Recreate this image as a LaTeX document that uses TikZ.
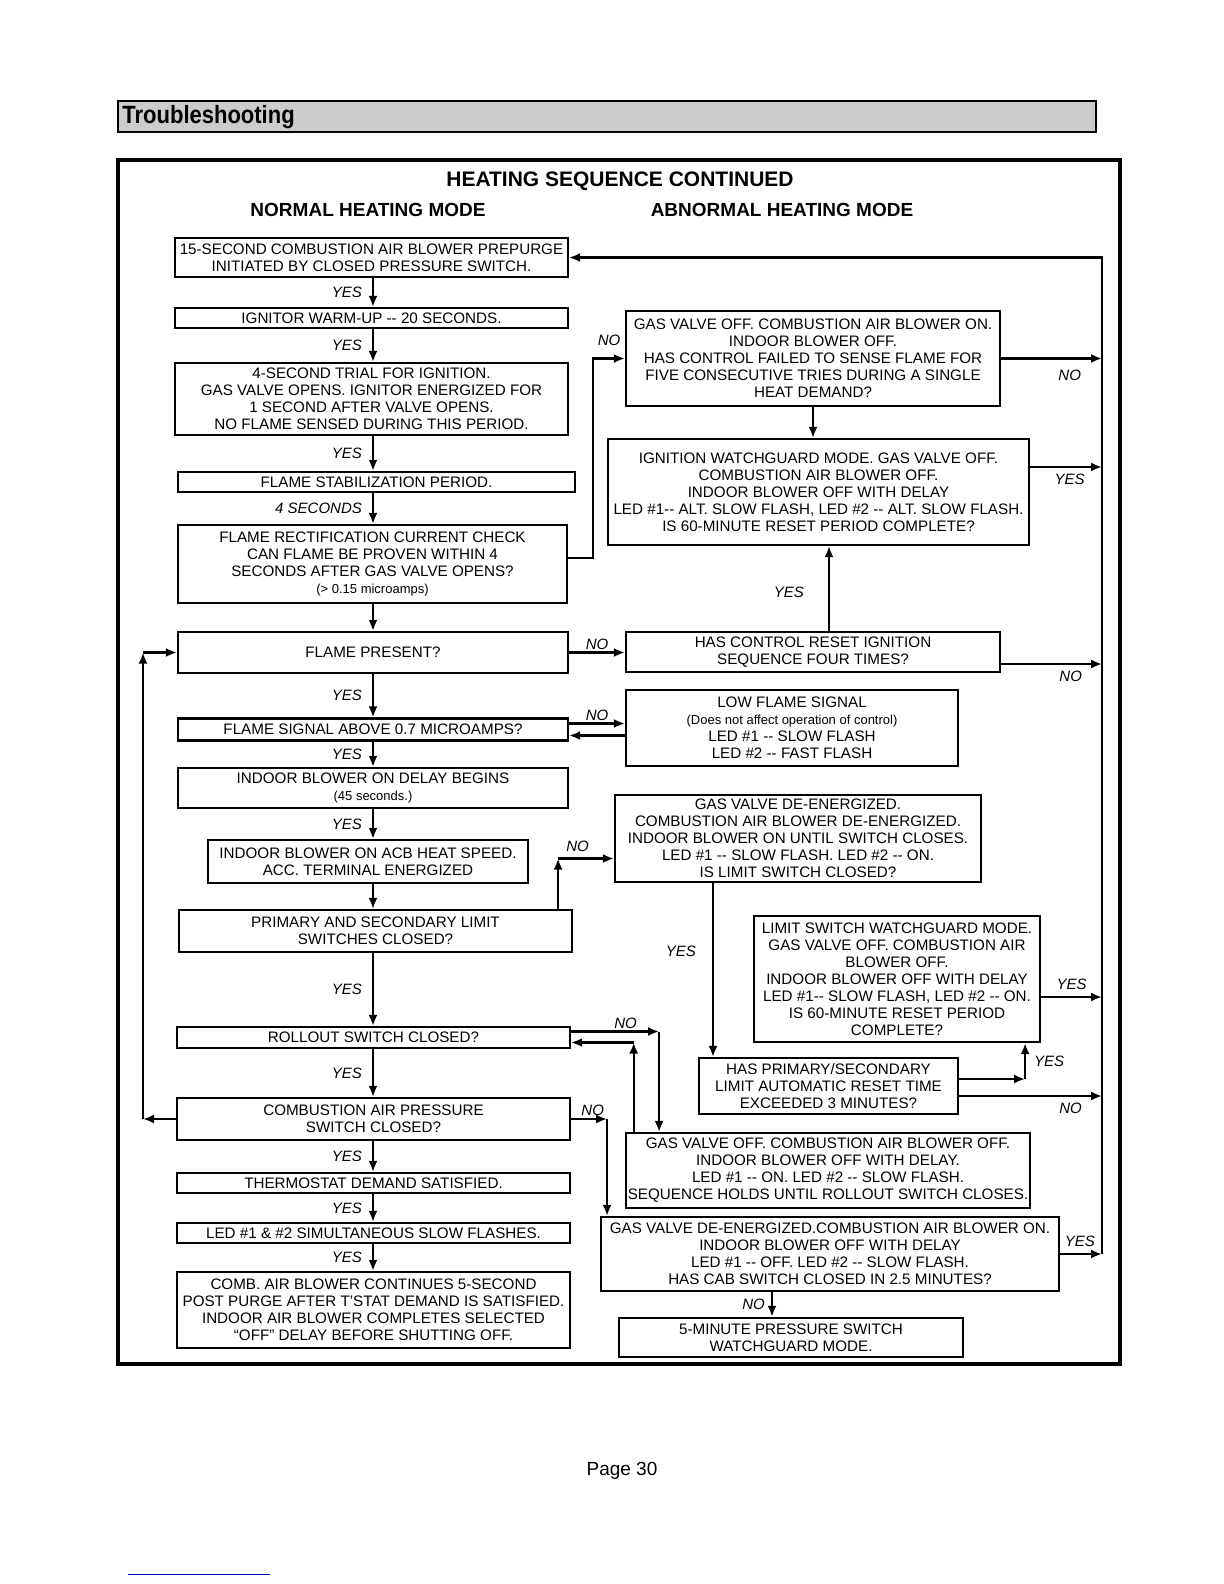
\documentclass[tikz,border=0pt]{standalone}
\usepackage{fontspec}
\setmainfont{Liberation Sans}
\usetikzlibrary{arrows.meta,calc,positioning}

\begin{document}
\begin{tikzpicture}[x=0.5pt,y=-0.5pt,
  box/.style={draw,line width=1.1pt,align=center,inner sep=1pt,
    font=\fontsize{7.6}{8.5}\selectfont},
  sz/.style 2 args={minimum width=#1*0.5pt,minimum height=#2*0.5pt},
  arr/.style={line width=1.1pt,-{Latex[length=5.5pt,width=4.5pt]}},
  lbl/.style={font=\fontsize{7.5}{8.5}\selectfont\itshape,inner sep=1pt}]
  \fill[white] (0,0) rectangle (1224,1584);
  \fill[black!20] (118,101) rectangle (1096,132);
  \draw[line width=0.6pt] (118,101) rectangle (1096,132);
  \node[anchor=west,inner sep=0pt,font=\fontsize{12.5}{14}\selectfont\bfseries] (ts) at (122,117) {\scalebox{0.88}[1]{Troubleshooting}};
  \draw[line width=1.6pt] (118,160) rectangle (1120,1364);
  \node[font=\fontsize{10.5}{12}\selectfont\bfseries] (title) at (620,181) {HEATING SEQUENCE CONTINUED};
  \node[font=\fontsize{9.5}{11}\selectfont\bfseries] (normal) at (368,210) {NORMAL HEATING MODE};
  \node[font=\fontsize{9.5}{11}\selectfont\bfseries] (abnormal) at (782,210) {ABNORMAL HEATING MODE};

  \node[box,sz={393}{39}] (prepurge) at (371.5,257.5) {15-SECOND COMBUSTION AIR BLOWER PREPURGE\\INITIATED BY CLOSED PRESSURE SWITCH.};
  \node[box,sz={393}{20}] (warmup) at (371.5,318) {IGNITOR WARM-UP -{}- 20 SECONDS.};
  \node[box,sz={393}{72}] (trial) at (371.5,399) {4-SECOND TRIAL FOR IGNITION.\\GAS VALVE OPENS. IGNITOR ENERGIZED FOR\\1 SECOND AFTER VALVE OPENS.\\NO FLAME SENSED DURING THIS PERIOD.};
  \node[box,sz={397}{20}] (stab) at (376.5,482) {FLAME STABILIZATION PERIOD.};
  \node[box,sz={389}{78}] (rect) at (372.5,564) {FLAME RECTIFICATION CURRENT CHECK\\CAN FLAME BE PROVEN WITHIN 4\\SECONDS AFTER GAS VALVE OPENS?\\{\fontsize{6.5}{8.5}\selectfont(> 0.15 microamps)}};
  \node[box,sz={390}{41}] (present) at (373,652.5) {FLAME PRESENT?};
  \node[box,sz={390}{22}] (signal) at (373,729.5) {FLAME SIGNAL ABOVE 0.7 MICROAMPS?};
  \node[box,sz={390}{40}] (ondelay) at (373,788) {INDOOR BLOWER ON DELAY BEGINS\\{\fontsize{6.5}{8.5}\selectfont(45 seconds.)}};
  \node[box,sz={320}{43}] (heatspeed) at (368,861.5) {INDOOR BLOWER ON ACB HEAT SPEED.\\ACC. TERMINAL ENERGIZED};
  \node[box,sz={393}{42}] (limits) at (375.5,931) {PRIMARY AND SECONDARY LIMIT\\SWITCHES CLOSED?};
  \node[box,sz={393}{21}] (rollout) at (373.5,1037.5) {ROLLOUT SWITCH CLOSED?};
  \node[box,sz={393}{42}] (pressure) at (373.5,1119) {COMBUSTION AIR PRESSURE\\SWITCH CLOSED?};
  \node[box,sz={393}{20}] (tstat) at (373.5,1183) {THERMOSTAT DEMAND SATISFIED.};
  \node[box,sz={393}{20}] (leds) at (373.5,1233) {LED \#1 \& \#2 SIMULTANEOUS SLOW FLASHES.};
  \node[box,sz={393}{76}] (postpurge) at (373.5,1310) {COMB. AIR BLOWER CONTINUES 5-SECOND\\POST PURGE AFTER T'STAT DEMAND IS SATISFIED.\\INDOOR AIR BLOWER COMPLETES SELECTED\\``OFF'' DELAY BEFORE SHUTTING OFF.};

  \node[box,sz={374}{95}] (fivetries) at (813,358.5) {GAS VALVE OFF. COMBUSTION AIR BLOWER ON.\\INDOOR BLOWER OFF.\\HAS CONTROL FAILED TO SENSE FLAME FOR\\FIVE CONSECUTIVE TRIES DURING A SINGLE\\HEAT DEMAND?};
  \node[box,sz={421}{106}] (ignwatch) at (818.5,492) {IGNITION WATCHGUARD MODE. GAS VALVE OFF.\\COMBUSTION AIR BLOWER OFF.\\INDOOR BLOWER OFF WITH DELAY\\LED \#1-{}- ALT. SLOW FLASH, LED \#2 -{}- ALT. SLOW FLASH.\\IS 60-MINUTE RESET PERIOD COMPLETE?};
  \node[box,sz={374}{40}] (fourtimes) at (813,652) {HAS CONTROL RESET IGNITION\\SEQUENCE FOUR TIMES?};
  \node[box,sz={332}{76}] (lowflame) at (792,728) {LOW FLAME SIGNAL\\{\fontsize{6.5}{8.5}\selectfont(Does not affect operation of control)}\\LED \#1 -{}- SLOW FLASH\\LED \#2 -{}- FAST FLASH};
  \node[box,sz={366}{87}] (limitopen) at (798,838.5) {GAS VALVE DE-ENERGIZED.\\COMBUSTION AIR BLOWER DE-ENERGIZED.\\INDOOR BLOWER ON UNTIL SWITCH CLOSES.\\LED \#1 -{}- SLOW FLASH. LED \#2 -{}- ON.\\IS LIMIT SWITCH CLOSED?};
  \node[box,sz={286}{126}] (limwatch) at (897,979) {LIMIT SWITCH WATCHGUARD MODE.\\GAS VALVE OFF. COMBUSTION AIR\\BLOWER OFF.\\INDOOR BLOWER OFF WITH DELAY\\LED \#1-{}- SLOW FLASH, LED \#2 -{}- ON.\\IS 60-MINUTE RESET PERIOD\\COMPLETE?};
  \node[box,sz={259}{56}] (autoreset) at (828.5,1086) {HAS PRIMARY/SECONDARY\\LIMIT AUTOMATIC RESET TIME\\EXCEEDED 3 MINUTES?};
  \node[box,sz={404}{75}] (rollhold) at (828,1170.5) {GAS VALVE OFF. COMBUSTION AIR BLOWER OFF.\\INDOOR BLOWER OFF WITH DELAY.\\LED \#1 -{}- ON. LED \#2 -{}- SLOW FLASH.\\SEQUENCE HOLDS UNTIL ROLLOUT SWITCH CLOSES.};
  \node[box,sz={458}{74}] (cabswitch) at (830,1254) {GAS VALVE DE-ENERGIZED.COMBUSTION AIR BLOWER ON.\\INDOOR BLOWER OFF WITH DELAY\\LED \#1 -{}- OFF. LED \#2 -{}- SLOW FLASH.\\HAS CAB SWITCH CLOSED IN 2.5 MINUTES?};
  \node[box,sz={344}{39}] (pswatch) at (791,1337.5) {5-MINUTE PRESSURE SWITCH\\WATCHGUARD MODE.};

  \coordinate (col) at (373,0);
  \coordinate (lft) at (143,0);
  \coordinate (rtop) at (1102,257.5);
  \coordinate (rbot) at (1102,1254);

  \draw[arr] (col |- prepurge.south) -- node[lbl,left=4pt] (y1) {YES} (col |- warmup.north);
  \draw[arr] (col |- warmup.south) -- node[lbl,left=4pt] (y2) {YES} (col |- trial.north);
  \draw[arr] (col |- trial.south) -- node[lbl,left=4pt] (y3) {YES} (col |- stab.north);
  \draw[arr] (col |- stab.south) -- node[lbl,left=4pt] (s4) {4 SECONDS} (col |- rect.north);
  \draw[arr] (col |- rect.south) -- (col |- present.north);
  \draw[arr] (col |- present.south) -- node[lbl,left=4pt] (y4) {YES} (col |- signal.north);
  \draw[arr] (col |- signal.south) -- node[lbl,left=4pt] (y5) {YES} (col |- ondelay.north);
  \draw[arr] (col |- ondelay.south) -- node[lbl,left=4pt] (y6) {YES} (col |- heatspeed.north);
  \draw[arr] (col |- heatspeed.south) -- (col |- limits.north);
  \draw[arr] (col |- limits.south) -- node[lbl,left=4pt] (y7) {YES} (col |- rollout.north);
  \draw[arr] (col |- rollout.south) -- node[lbl,left=4pt] (y8) {YES} (col |- pressure.north);
  \draw[arr] (col |- pressure.south) -- node[lbl,left=4pt] (y9) {YES} (col |- tstat.north);
  \draw[arr] (col |- tstat.south) -- node[lbl,left=4pt] (y10) {YES} (col |- leds.north);
  \draw[arr] (col |- leds.south) -- node[lbl,left=4pt] (y11) {YES} (col |- postpurge.north);

  \draw[arr] (pressure.west) -- (pressure.west -| lft) coordinate (lb);
  \draw[arr] (lb) -- (lb |- present.west) coordinate (lt);
  \draw[arr] (lt) -- (present.west);

  \draw[arr] ([yshift=3pt]rect.east) -- ++(25,0) |- node[lbl,pos=0.75,above=5pt] (n1) {NO} (fivetries.west);
  \draw[arr] (fivetries.south) -- (fivetries.south |- ignwatch.north);
  \draw[arr] ([xshift=8pt]fourtimes.north) coordinate (ft) -- node[lbl,pos=0.45,left=11pt] (y12) {YES} (ft |- ignwatch.south);
  \draw[arr] (present.east) -- node[lbl,above] (n2) {NO} (present.east -| fourtimes.west);
  \draw[arr] ([yshift=3pt]signal.east) coordinate (sg) -- node[lbl,above] (n3) {NO} (sg -| lowflame.west);
  \draw[arr] ([yshift=-3pt]signal.east -| lowflame.west) -- ([yshift=-3pt]signal.east);

  \coordinate (lu) at ([xshift=-7.5pt]limits.north east);
  \coordinate (r5in) at ([yshift=-10pt]limitopen.west);
  \draw[arr] (lu) -- (lu |- r5in);
  \draw[arr] (lu |- r5in) -- node[lbl,pos=0.35,above=2pt] (n5) {NO} (r5in);
  \draw[arr] ([xshift=-42.5pt]limitopen.south) coordinate (lo) -- node[lbl,pos=0.39,left=7pt] (y14) {YES} (lo |- autoreset.north);
  \draw[arr] ([yshift=3.5pt]autoreset.east) -- ++(66,0) coordinate (ar);
  \draw[arr] (ar) -- node[lbl,right=3pt] (y13) {YES} (ar |- limwatch.south);

  \draw[arr] ([yshift=3pt]rollout.east) -- node[lbl,pos=0.62,above] (n6) {NO} ++(88,0) coordinate (ro);
  \draw[arr] (ro) -- (ro |- rollhold.north);
  \coordinate (rh) at ([xshift=4.5pt]rollhold.north west);
  \coordinate (rb) at ([yshift=-2.5pt]rollout.east);
  \draw[arr] (rh) -- (rh |- rb);
  \draw[arr] (rh |- rb) -- (rb);
  \draw[arr] (pressure.east) -- node[lbl,pos=0.6,above] (n7) {NO} ++(36,0) coordinate (pr);
  \draw[arr] (pr) -- (pr |- cabswitch.north);
  \draw[arr] ([xshift=-29pt]cabswitch.south) coordinate (cb) -- node[lbl,left=2pt] (n8) {NO} (cb |- pswatch.north);

  \draw[arr] (fivetries.east) -- node[lbl,pos=0.68,below=4pt] (n4) {NO} (fivetries.east -| rtop);
  \draw[arr] ([yshift=12.5pt]ignwatch.east) coordinate (iw) -- node[lbl,pos=0.55,below=2pt] (y16) {YES} (iw -| rtop);
  \draw[arr] ([yshift=-6pt]fourtimes.east) coordinate (fo) -- node[lbl,pos=0.69,below=2pt] (n9) {NO} (fo -| rtop);
  \draw[arr] ([yshift=-9pt]limwatch.east) coordinate (lw) -- node[lbl,pos=0.5,above=2pt] (y17) {YES} (lw -| rtop);
  \draw[arr] ([yshift=-5pt]autoreset.east) coordinate (au) -- node[lbl,pos=0.78,below=2pt] (n10) {NO} (au -| rtop);
  \draw[arr] (cabswitch.east) -- node[lbl,pos=0.47,above=2pt] (y15) {YES} (rbot);
  \draw[arr] (rbot) -- (rtop) -- (rtop -| prepurge.east);

  \node[font=\fontsize{9.5}{11}\selectfont] (page) at (622,1471) {Page 30};
  \draw[blue!70!black,line width=0.5pt] (128,1574) -- (270,1574);
\end{tikzpicture}
\end{document}
